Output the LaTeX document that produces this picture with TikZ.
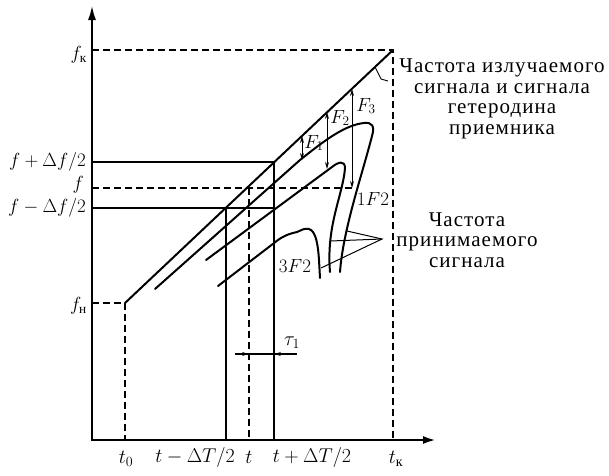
\RequirePackage{fix-cm}
\documentclass[tikz,border=0pt]{standalone}
\usepackage{amsmath}
\usepackage{fontspec}
\setmainfont{Liberation Serif}
\newfontfamily\rufont[LetterSpace=5]{Liberation Serif}
\usetikzlibrary{arrows.meta}
\begin{document}
\begin{tikzpicture}[x=1pt,y=-1pt,
  axisline/.style={line width=2.4pt,{Latex[length=15pt,width=8pt]}-{Latex[length=13pt,width=8pt]}},
  sigline/.style={line width=2pt,line cap=round,line join=round},
  hline/.style={line width=1.8pt},
  thinline/.style={line width=1.2pt},
  dashline/.style={line width=1.5pt,dash pattern=on 7pt off 4pt},
  farrow/.style={line width=1pt,{Stealth[length=7pt,width=4pt]}-{Stealth[length=7pt,width=4pt]}},
  tarrow/.style={line width=1pt,-{Stealth[length=7pt,width=4pt]}},
  lbl/.style={font=\fontsize{19}{19}\selectfont,inner sep=0pt},
  tlbl/.style={font=\fontsize{20}{20}\selectfont,inner sep=0pt},
  rutext/.style={font=\rufont\fontsize{21}{20.7}\selectfont,align=center,inner sep=0pt}]
\useasboundingbox (0,0) rectangle (609,475);
% key coordinates
\coordinate (O) at (92,440);
\coordinate (Ytop) at (92,5);
\coordinate (Xend) at (436,440);
\coordinate (S) at (125,303);
\coordinate (E) at (393,50);
\coordinate (YK) at (92,50);
\coordinate (TK) at (393,440);
\coordinate (YN) at (92,303);
\coordinate (T0) at (125,440);
\coordinate (Yp) at (92,162);
\coordinate (Pp) at (274,162);
\coordinate (Tp) at (274,440);
\coordinate (Yf) at (92,188);
\coordinate (Pt) at (249,188);
\coordinate (Pf) at (353,188);
\coordinate (Tf) at (249,440);
\coordinate (Ym) at (92,208);
\coordinate (Pmm) at (226,208);
\coordinate (Pm) at (274,208);
\coordinate (Tm) at (226,440);
% dashed guides
\draw[dashline] (YK) -- (E) -- (TK);
\draw[dashline] (YN) -- (S) -- (T0);
\draw[dashline] (Yf) -- (Pf);
\draw[dashline] (Pt) -- (Tf);
% solid guides
\draw[hline] (Yp) -- (Pp);
\draw[hline] (Ym) -- (Pm);
\draw[thinline] (Pp) -- (Tp);
\draw[thinline] (Pmm) -- (Tm);
% axes
\draw[axisline] (Ytop) -- (O) -- (Xend);
% transmitted signal
\draw[sigline] (S) -- (E);
% received signals
\coordinate (R2s) at (155,289);
\coordinate (R2a) at (300,160);
\coordinate (R2e) at (340,272);
\draw[sigline] (R2s) -- (R2a) .. controls (325,140) and (345,125) .. (364,123)
  .. controls (372,122) and (375,126) .. (372,136)
  .. controls (362,175) and (343,230) .. (R2e);
\coordinate (R3s) at (206,260);
\coordinate (R3a) at (332,167);
\coordinate (R3e) at (330,272);
\draw[sigline] (R3s) -- (R3a) .. controls (338,162) and (345,160) .. (345,168)
  .. controls (343,195) and (326,225) .. (R3e);
\coordinate (R4s) at (218,286);
\coordinate (R4a) at (278,240);
\coordinate (R4e) at (320,278);
\draw[sigline] (R4s) -- (R4a) .. controls (285,235) and (292,233) .. (297,232)
  .. controls (302,230) and (304,228) .. (309,229)
  .. controls (316,231) and (318,245) .. (319,260) -- (R4e);
% difference frequencies
\coordinate (F1t) at (302,136);
\coordinate (F1b) at (302,160);
\coordinate (F2t) at (327,112);
\coordinate (F2b) at (327,169);
\coordinate (F3t) at (352,89);
\coordinate (F3b) at (352,188);
\draw[farrow] (F1t) -- (F1b);
\draw[farrow] (F2t) -- (F2b);
\draw[farrow] (F3t) -- (F3b);
% tau
\coordinate (tauL) at (235,354);
\coordinate (tauR) at (297,354);
\coordinate (tauA) at (249,354);
\coordinate (tauB) at (274,354);
\draw[thinline] (tauL) -- (tauR);
\draw[tarrow] (tauL) -- (tauA);
\draw[tarrow] (tauR) -- (tauB);
% leaders
\coordinate (L1) at (375,67);
\coordinate (L2) at (381,79);
\coordinate (L3) at (388,81);
\draw[line width=0.9pt] (L1) -- (L2) -- (L3);
\coordinate (A) at (382,239);
\coordinate (A1) at (347,231);
\coordinate (A2) at (330,241);
\coordinate (A3) at (321,268);
\draw[line width=1pt] (A1) -- (A) -- (A3);
\draw[line width=1pt] (A) -- (A2);
% axis labels
\node[lbl,anchor=east] (lfk) at (87,55) {$f_{\text{к}}$};
\node[lbl,anchor=east] (lfp) at (86,162) {$f+\Delta f/2$};
\node[lbl,anchor=east] (lf) at (84,185) {$f$};
\node[lbl,anchor=east] (lfm) at (86,208) {$f-\Delta f/2$};
\node[lbl,anchor=east] (lfn) at (87,306) {$f_{\text{н}}$};
\node[tlbl] (lt0) at (126,459) {$t_0$};
\node[tlbl] (ltm) at (195,457) {$t-\Delta T/2$};
\node[tlbl] (lt) at (249,457) {$t$};
\node[tlbl] (ltp) at (312,457) {$t+\Delta T/2$};
\node[tlbl] (ltk) at (396,459) {$t_{\text{к}}$};
\node[tlbl] (ltau) at (292,343) {$\tau_1$};
\node[lbl] (lF1) at (314,143) {$F_1$};
\node[lbl] (lF2) at (340,118) {$F_2$};
\node[lbl] (lF3) at (366,106) {$F_3$};
\node[lbl] (l1F2) at (373,199) {$1F2$};
\node[lbl] (l3F2) at (295,266) {$3F2$};
% texts
\node[rutext] (txt1) at (502,99) {Частота излучаемого\\сигнала и сигнала\\гетеродина\\приемника};
\node[rutext] (txt2) at (467,240) {Частота\\принимаемого\\сигнала};
\end{tikzpicture}
\end{document}
